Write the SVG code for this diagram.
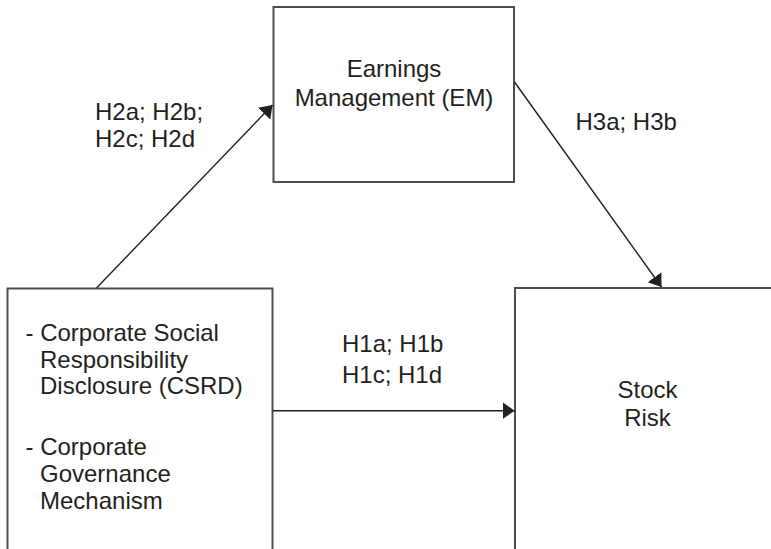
<svg xmlns="http://www.w3.org/2000/svg" width="771" height="549" viewBox="0 0 771 549">
<defs>
<style>
.box{fill:#fff;stroke:#4d4d4d;stroke-width:2}
.lbl{font-family:"Liberation Sans",Arial,sans-serif;font-size:24px;fill:#231f20}
.mid{text-anchor:middle}
.conn{stroke:#231f20;stroke-width:1.4;fill:none}
</style>
<marker id="ah" markerUnits="userSpaceOnUse" markerWidth="14" markerHeight="20" viewBox="-12 -9 14 18" refX="0" refY="0" orient="auto">
<path d="M-12,-8.5 L0,0 L-12,8.5 z" fill="#231f20"/>
</marker>
</defs>
<rect width="771" height="549" fill="#fff"/>
<g id="node-em">
<rect class="box" x="273.5" y="7" width="240.5" height="175"/>
<text class="lbl mid" x="394" y="77">Earnings</text>
<text class="lbl mid" x="394" y="106">Management (EM)</text>
</g>
<g id="node-csrd">
<rect class="box" x="7.5" y="288.5" width="265" height="280"/>
<text class="lbl" x="25.5" y="341">- Corporate Social</text>
<text class="lbl" x="40" y="367.5">Responsibility</text>
<text class="lbl" x="40" y="394">Disclosure (CSRD)</text>
<text class="lbl" x="25.5" y="455">- Corporate</text>
<text class="lbl" x="40" y="482">Governance</text>
<text class="lbl" x="40" y="509">Mechanism</text>
</g>
<g id="node-risk">
<rect class="box" x="515" y="288" width="280" height="280"/>
<text class="lbl mid" x="647.5" y="397.5">Stock</text>
<text class="lbl mid" x="647.5" y="426">Risk</text>
</g>
<g id="connectors">
<line class="conn" x1="96.5" y1="288" x2="272.5" y2="105" marker-end="url(#ah)"/>
<line class="conn" x1="514.5" y1="82" x2="661.5" y2="287" marker-end="url(#ah)"/>
<line class="conn" x1="273" y1="410.7" x2="514.5" y2="410.7" marker-end="url(#ah)"/>
<text class="lbl" x="95" y="120">H2a; H2b;</text>
<text class="lbl" x="95" y="147">H2c; H2d</text>
<text class="lbl" x="575.5" y="130">H3a; H3b</text>
<text class="lbl" x="342" y="352">H1a; H1b</text>
<text class="lbl" x="342" y="383">H1c; H1d</text>
</g>
</svg>
